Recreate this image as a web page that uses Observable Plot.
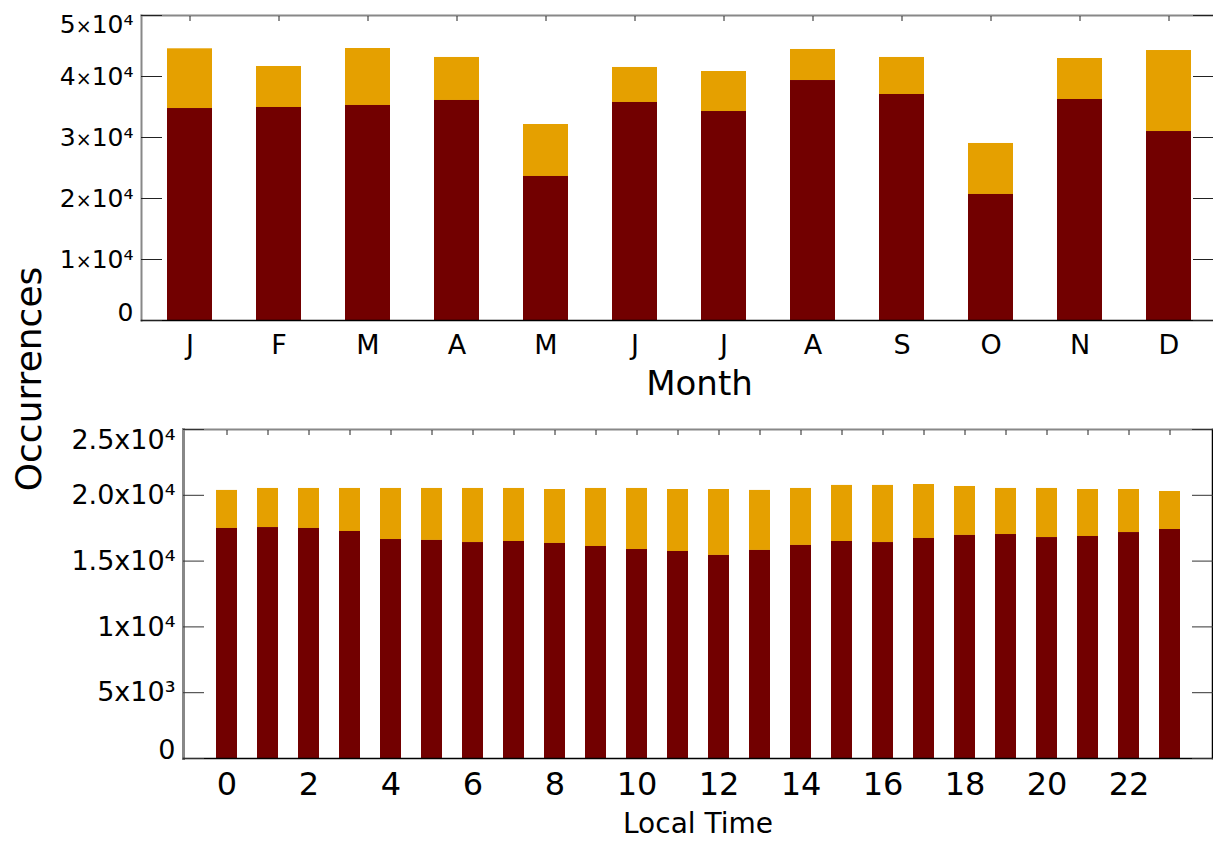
<!DOCTYPE html>
<html><head><meta charset="utf-8">
<script src="https://cdn.jsdelivr.net/npm/d3@7"></script>
<script src="https://cdn.jsdelivr.net/npm/@observablehq/plot@0.6"></script>
<style>
html,body{margin:0;padding:0;background:#fff;}
#wrap{position:relative;width:1213px;height:841px;overflow:hidden;font-family:"DejaVu Sans",sans-serif;}
#top,#bot{position:absolute;left:0;}
#top{top:0}
#bot{top:405px}
#ylab{position:absolute;left:28px;top:379px;transform:translate(-50%,-50%) rotate(-90deg);font-size:36px;white-space:nowrap;color:#000;}
svg{max-width:none!important;overflow:visible}
</style></head><body>
<div id="wrap"><div id="top"></div><div id="bot"></div><div id="ylab">Occurrences</div></div>
<script>
// ---- data ----
const monthIndex = [1,2,3,4,5,6,7,8,9,10,11,12];
const monthLabels = ["J","F","M","A","M","J","J","A","S","O","N","D"];
const monthDark  = [34750, 34920, 35250, 36070, 23610, 35740, 34260, 39340, 37050, 20660, 36230, 30980];
const monthTotal = [44540, 41640, 44590, 43120, 32130, 41480, 40820, 44430, 43120, 29020, 42950, 44260];

const hours = [0,1,2,3,4,5,6,7,8,9,10,11,12,13,14,15,16,17,18,19,20,21,22,23];
const hourDark  = [17480,17550,17480,17250,16640,16570,16410,16490,16340,16110,15880,15730,15430,15810,16190,16490,16410,16720,16950,17020,16790,16870,17170,17400];
const hourTotal = [20370,20520,20520,20520,20520,20520,20520,20520,20440,20520,20520,20440,20440,20370,20520,20750,20750,20820,20670,20520,20520,20440,20440,20290];
const hourTickValues = [0,2,4,6,8,10,12,14,16,18,20,22];

const topTicks = [0,10000,20000,30000,40000,50000];
const topTickLabels = ["0","1\u00d710\u2074","2\u00d710\u2074","3\u00d710\u2074","4\u00d710\u2074","5\u00d710\u2074"];
const botTicks = [0,5000,10000,15000,20000,25000];
const botTickLabels = ["0","5x10\u00b3","1x10\u2074","1.5x10\u2074","2.0x10\u2074","2.5x10\u2074"];

const DARK = "#720000", ORANGE = "#E5A000";
const FONT = '"DejaVu Sans", sans-serif';

function yLabels(ticks, labels, fs) {
  const last = ticks.length - 1;
  const base = {y: d => d, text: (d) => labels[ticks.indexOf(d)], frameAnchor: "left", textAnchor: "end", dx: -8, fontSize: fs, fill: "#000"};
  return [
    Plot.text(ticks.filter((d,i) => i === 0), {...base, lineAnchor: "bottom"}),
    Plot.text(ticks.filter((d,i) => i > 0 && i < last), {...base, lineAnchor: "middle"}),
    Plot.text(ticks.filter((d,i) => i === last), {...base, lineAnchor: "top"})
  ];
}

const topData = monthIndex.map((m,i) => ({m, dark: monthDark[i], total: monthTotal[i]}));
const topPlot = Plot.plot({
  width: 1213, height: 405,
  marginTop: 15, marginBottom: 85, marginLeft: 141, marginRight: 0,
  style: {fontFamily: FONT, background: "white", overflow: "visible", color: "#000"},
  x: {type: "band", domain: monthIndex, range: [141, 1216], paddingInner: 0.5, paddingOuter: 0.25, axis: null},
  y: {domain: [0, 50000], range: [320, 15], axis: null},
  marks: [
    Plot.barY(topData, {x: "m", y1: "dark", y2: "total", fill: ORANGE}),
    Plot.barY(topData, {x: "m", y1: 0, y2: "dark", fill: DARK}),
    Plot.frame({anchor: "top", stroke: "#888", strokeWidth: 2}),
    Plot.frame({anchor: "left", stroke: "#888", strokeWidth: 2}),
    Plot.frame({anchor: "bottom", stroke: "#000", strokeWidth: 1.5}),
    Plot.axisY({anchor: "left", ticks: topTicks, tickSize: 21, dx: 21, tickFormat: () => "", label: null, stroke: "#222"}),
    Plot.axisY({anchor: "right", ticks: topTicks, tickSize: 21, dx: -21, tickFormat: () => "", label: null, stroke: "#222"}),
    Plot.axisX({anchor: "top", tickSize: 5, dy: 5, tickFormat: () => "", label: null, stroke: "#222"}),
    Plot.axisX({anchor: "bottom", tickSize: 0, tickPadding: 14, fontSize: 27, tickFormat: m => monthLabels[m - 1], label: null, fill: "#000"}),
    ...yLabels(topTicks, topTickLabels, 25),
    Plot.text(["Month"], {frameAnchor: "bottom", dx: 22, dy: 64, fontSize: 34, lineAnchor: "middle", text: d => d, fill: "#000"})
  ]
});
document.getElementById("top").appendChild(topPlot);

const botData = hours.map((h,i) => ({h, dark: hourDark[i], total: hourTotal[i]}));
const botPlot = Plot.plot({
  width: 1213, height: 436,
  marginTop: 24, marginBottom: 83, marginLeft: 183, marginRight: 1,
  style: {fontFamily: FONT, background: "white", overflow: "visible", color: "#000"},
  x: {type: "band", domain: hours, range: [183, 1212], paddingInner: 0.5, paddingOuter: 0.75, axis: null},
  y: {domain: [0, 25000], range: [353, 24], axis: null},
  marks: [
    Plot.barY(botData, {x: "h", y1: "dark", y2: "total", fill: ORANGE}),
    Plot.barY(botData, {x: "h", y1: 0, y2: "dark", fill: DARK}),
    Plot.frame({anchor: "top", stroke: "#888", strokeWidth: 2}),
    Plot.frame({anchor: "left", stroke: "#888", strokeWidth: 3}),
    Plot.frame({anchor: "bottom", stroke: "#000", strokeWidth: 1.5}),
    Plot.frame({anchor: "right", stroke: "#000", strokeWidth: 1.5}),
    Plot.axisY({anchor: "left", ticks: botTicks, tickSize: 21, dx: 21, tickFormat: () => "", label: null, stroke: "#333"}),
    Plot.axisY({anchor: "right", ticks: botTicks, tickSize: 21, dx: -21, tickFormat: () => "", label: null, stroke: "#333"}),
    Plot.axisX({anchor: "top", tickSize: 5, dy: 5, tickFormat: () => "", label: null, stroke: "#222"}),
    Plot.axisX({anchor: "bottom", ticks: hourTickValues, tickSize: 0, tickPadding: 14, fontSize: 32, label: null, fill: "#000"}),
    ...yLabels(botTicks, botTickLabels, 27),
    Plot.text(["Local Time"], {frameAnchor: "bottom", dy: 66, fontSize: 28, lineAnchor: "middle", text: d => d, fill: "#000"})
  ]
});
document.getElementById("bot").appendChild(botPlot);

// smaller multiplication sign, as in the reference's tick labels
d3.select(topPlot).selectAll("text").each(function() {
  const s = this.textContent;
  if (s.includes("\u00d7")) {
    const [a, b] = s.split("\u00d7");
    const t = d3.select(this);
    t.text(null);
    t.append("tspan").text(a);
    t.append("tspan").attr("font-size", "19px").text("\u00d7");
    t.append("tspan").text(b);
  }
});
</script>
</body></html>
